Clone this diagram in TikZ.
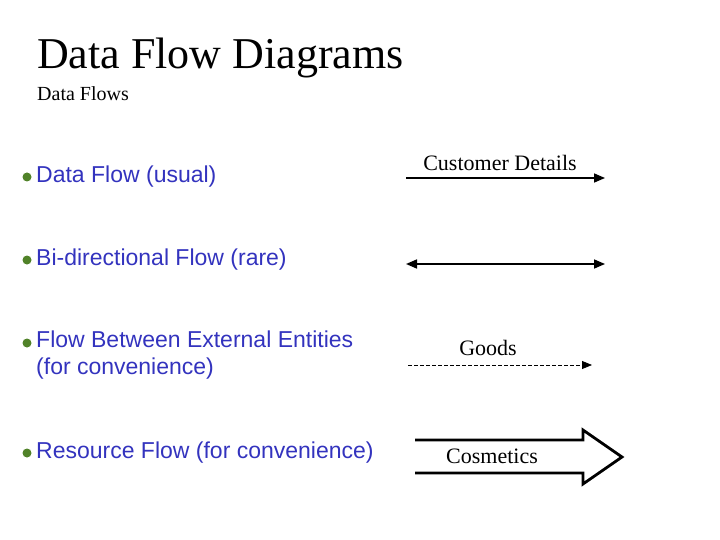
\documentclass[tikz,border=0pt]{standalone}
\usepackage{fontspec}
\newfontfamily\sansf{Liberation Sans}
\setmainfont{Liberation Serif}
\usetikzlibrary{arrows.meta}
\definecolor{bl}{RGB}{51,51,190}
\definecolor{gr}{RGB}{80,130,40}
\begin{document}
\begin{tikzpicture}[x=1pt,y=-1pt,
 bul/.style={anchor=west,text=bl,font=\sansf\fontsize{23}{27}\selectfont,align=left,inner sep=0},
 lab/.style={font=\fontsize{22}{26}\selectfont,inner sep=0},
 flow/.style={line width=1.6pt,-{Triangle[length=11pt,width=9pt]}},
 dot/.style={circle,fill=gr,inner sep=0,minimum size=9pt}]
\useasboundingbox (0,0) rectangle (720,540);
\node[anchor=west,inner sep=0,font=\fontsize{44}{50}\selectfont] (t) at (37,58) {Data Flow Diagrams};
\node[anchor=west,inner sep=0,font=\fontsize{20}{24}\selectfont] (s) at (37,94) {Data Flows};
\foreach \y/\n in {177/b1,260/b2,343/b3,453/b4}{\node[dot] (\n) at (27,\y) {};}
\node[bul] (l1) at (36,177) {Data Flow (usual)};
\node[bul] (l2) at (36,260) {Bi-directional Flow (rare)};
\node[bul,anchor=north west] (l3) at (36,331) {Flow Between External Entities\\(for convenience)};
\node[bul] (l4) at (36,453) {Resource Flow (for convenience)};
\coordinate (a1) at (406,178); \coordinate (a2) at (605,178);
\draw[flow] (a1) -- (a2);
\node[lab] (c1) at (500,163) {Customer Details};
\coordinate (b1a) at (406,264); \coordinate (b2a) at (605,264);
\draw[line width=1.6pt,{Triangle[length=11pt,width=9pt]}-{Triangle[length=11pt,width=9pt]}] (b1a) -- (b2a);
\coordinate (d1) at (408,365); \coordinate (d2) at (592,365);
\draw[dashed,line width=0.8pt,dash pattern=on 4pt off 2pt,-{Triangle[length=10pt,width=8pt]}] (d1) -- (d2);
\node[lab] (g) at (488,348) {Goods};
\draw[line width=2.8pt,line join=miter] (415,440) -- (583,440) -- (583,430) -- (622,457) -- (583,484) -- (583,473) -- (415,473);
\node[lab] (cos) at (492,456) {Cosmetics};
\end{tikzpicture}
\end{document}
